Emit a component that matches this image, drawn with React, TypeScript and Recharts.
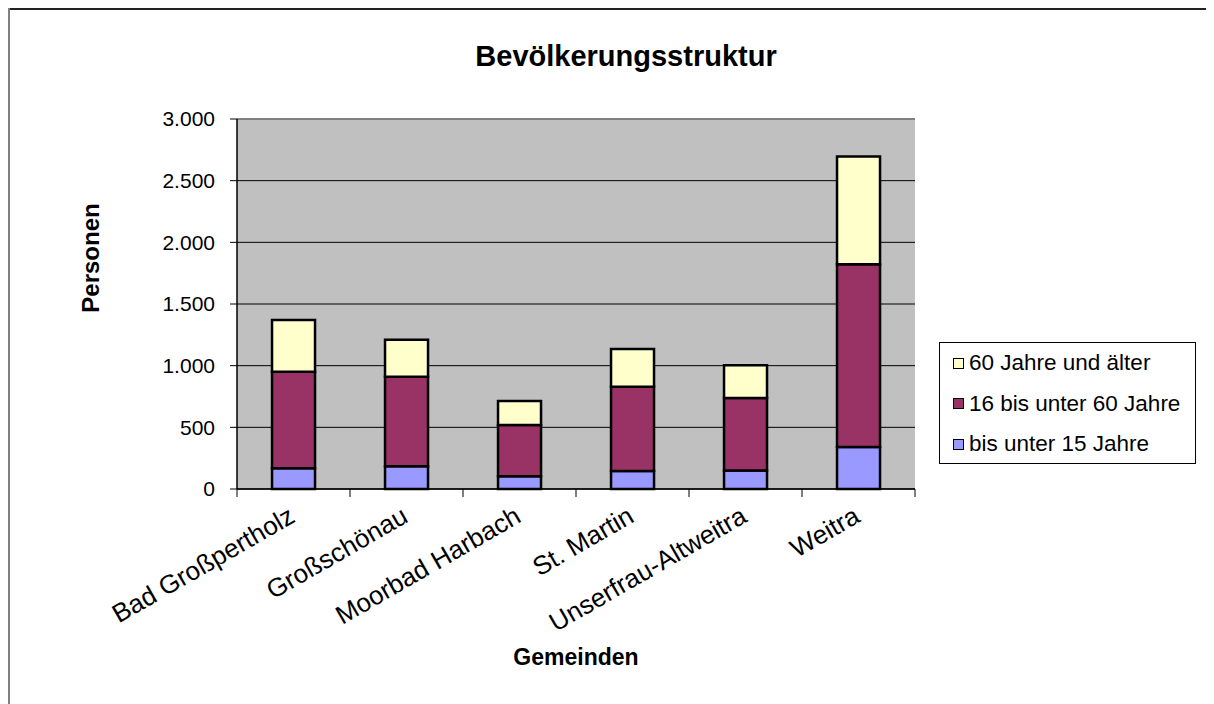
import React from 'react';
import { BarChart, Bar, XAxis, YAxis, CartesianGrid } from 'recharts';

const categories = ['Bad Großpertholz', 'Großschönau', 'Moorbad Harbach', 'St. Martin', 'Unserfrau-Altweitra', 'Weitra'];
const under15 = [168, 184, 103, 146, 149, 341];
const from16to60 = [783, 727, 416, 684, 589, 1481];
const over60 = [419, 300, 195, 305, 265, 873];
const yTicks = [0, 500, 1000, 1500, 2000, 2500, 3000];
const seriesKeys = ['under15', 'from16to60', 'over60'];
const seriesNames = ['bis unter 15 Jahre', '16 bis unter 60 Jahre', '60 Jahre und älter'];
const seriesColors = ['#9999FF', '#993366', '#FFFFCC'];

const data = categories.map((name, i) => ({
  name,
  under15: under15[i],
  from16to60: from16to60[i],
  over60: over60[i],
}));

const FONT = "'Liberation Sans', Arial, sans-serif";

const fmt = (v: number) => String(v).replace(/\B(?=(\d{3})+(?!\d))/g, '.');

const XTick = (props: any) => {
  const { x, y, payload, index } = props;
  const half = payload && payload.offset ? payload.offset : 0;
  const tx = x + 3;
  const ty = y + 32;
  const last = index === categories.length - 1;
  return (
    <g>
      <line x1={x - half} y1={y} x2={x - half} y2={y + 8} stroke="#000" strokeWidth={1} />
      {last && <line x1={x + half} y1={y} x2={x + half} y2={y + 8} stroke="#000" strokeWidth={1} />}
      <text x={tx} y={ty} transform={`rotate(-30, ${tx}, ${ty})`} textAnchor="end" fontSize={26} fontFamily={FONT} fill="#000">
        {payload.value}
      </text>
    </g>
  );
};

const GridLine = (p: any) => {
  const isTop = typeof p.y === 'number' && Math.abs(p.y1 - p.y) < 1;
  return (
    <line
      key={p.key || `${p.y1}`}
      x1={p.x1}
      y1={p.y1}
      x2={p.x2}
      y2={p.y2}
      stroke={isTop ? '#808080' : '#000'}
      strokeWidth={isTop ? 2 : 1}
    />
  );
};

const LegendBox = () => {
  const rows = [2, 1, 0];
  return (
    <div style={{ position: 'absolute', left: 931, top: 334, width: 257, height: 122, border: '1px solid #000', boxSizing: 'border-box', background: '#fff', fontFamily: FONT }}>
      {rows.map((si, r) => (
        <div key={si} style={{ position: 'absolute', left: 13, top: 7 + r * 40.5, height: 26, display: 'flex', alignItems: 'center', whiteSpace: 'nowrap' }}>
          <span style={{ display: 'inline-block', width: 9, height: 9, background: seriesColors[si], border: '1.5px solid #000', marginRight: 5 }} />
          <span style={{ fontSize: 22.5, color: '#000' }}>{seriesNames[si]}</span>
        </div>
      ))}
    </div>
  );
};

export default function App() {
  return (
    <div style={{ position: 'relative', width: 1206, height: 696, background: '#fff', overflow: 'hidden' }}>
      <style>{'html{overflow:hidden}'}</style>
      <div style={{ position: 'absolute', left: 318, top: 34, width: 600, textAlign: 'center', fontFamily: FONT, fontWeight: 'bold', fontSize: 29, lineHeight: '29px', color: '#000' }}>
        Bevölkerungsstruktur
      </div>
      <BarChart
        width={1206}
        height={696}
        data={data}
        margin={{ top: 111, right: 299, bottom: 30, left: 149 }}
        barCategoryGap="31%"
      >
        <CartesianGrid vertical={false} horizontal={(p: any) => <GridLine {...p} />} stroke="#000" strokeWidth={1} fill="#C0C0C0" fillOpacity={1} />
        <XAxis
          dataKey="name"
          tick={<XTick />}
          tickLine={false}
          tickSize={0}
          tickMargin={0}
          interval={0}
          height={185}
          axisLine={{ stroke: '#000', strokeWidth: 1.5 }}
          label={{
            content: (p: any) => {
              const vb = p.viewBox;
              return (
                <text x={vb.x + vb.width / 2} y={vb.y + 176} textAnchor="middle" fontSize={23} fontWeight="bold" fontFamily={FONT} fill="#000">
                  Gemeinden
                </text>
              );
            },
          }}
        />
        <YAxis
          domain={[0, 3000]}
          ticks={yTicks}
          tickFormatter={fmt}
          width={80}
          tickSize={7}
          tickMargin={15}
          interval={0}
          tick={{ fontSize: 21, fill: '#000', fontFamily: FONT }}
          tickLine={{ stroke: '#000' }}
          axisLine={{ stroke: '#000', strokeWidth: 1.5 }}
          label={{
            content: (p: any) => {
              const vb = p.viewBox;
              const lx = vb.x - 58;
              const ly = vb.y + 139;
              return (
                <text x={lx} y={ly} transform={`rotate(-90, ${lx}, ${ly})`} textAnchor="middle" fontSize={24} fontWeight="bold" fontFamily={FONT} fill="#000">
                  Personen
                </text>
              );
            },
          }}
        />
        <YAxis yAxisId="r" orientation="right" domain={[0, 3000]} width={0} tick={false} tickLine={false} axisLine={{ stroke: '#808080', strokeWidth: 2 }} />
        {seriesKeys.map((k, i) => (
          <Bar key={k} dataKey={k} name={seriesNames[i]} stackId="s" fill={seriesColors[i]} stroke="#000" strokeWidth={2.5} isAnimationActive={false} />
        ))}
      </BarChart>
      <LegendBox />
      <div style={{ position: 'absolute', left: 0, top: 0, width: 1206, height: 2, background: '#222' }} />
      <div style={{ position: 'absolute', left: 0, top: 0, width: 2, height: 696, background: '#808080' }} />
    </div>
  );
}
